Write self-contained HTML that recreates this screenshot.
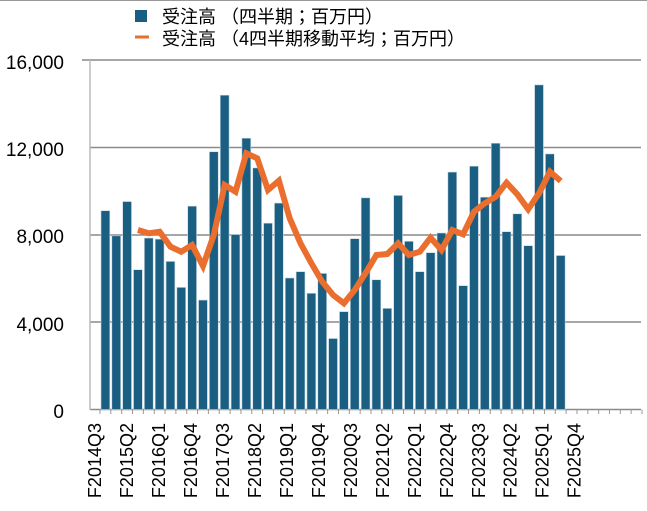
<!DOCTYPE html>
<html><head><meta charset="utf-8"><style>
html,body{margin:0;padding:0;background:#fff;}
svg{display:block;font-family:"Liberation Sans","Noto Sans CJK JP",sans-serif;}
</style></head><body>
<svg width="647" height="511" viewBox="0 0 647 511" xmlns="http://www.w3.org/2000/svg">
<line x1="0" y1="0.5" x2="647" y2="0.5" stroke="#999" stroke-width="1"/>
<g stroke="#8a8a8a" stroke-width="1.5">
<line x1="82" y1="60" x2="641" y2="60"/>
<line x1="90" y1="147.5" x2="641" y2="147.5"/>
<line x1="90" y1="235" x2="641" y2="235"/>
<line x1="90" y1="322" x2="641" y2="322"/>
<line x1="90" y1="409.5" x2="641" y2="409.5"/>
</g>
<line x1="90" y1="60" x2="90" y2="410" stroke="#bbb" stroke-width="1.5"/>
<g font-size="19" fill="#000" text-anchor="end">
<text x="64" y="69">16,000</text>
<text x="64" y="156">12,000</text>
<text x="64" y="243">8,000</text>
<text x="64" y="331">4,000</text>
<text x="64" y="418">0</text>
</g>
<g id="bars" fill="#1a5e82" stroke="#c8d8e2" stroke-width="0.6"></g>
<g id="ticks" stroke="#999" stroke-width="1"></g>
<polyline id="ma" fill="none" stroke="#ea6e2e" stroke-width="6" stroke-linejoin="miter" points=""/>
<g id="xl" font-size="18" fill="#000" text-anchor="end"></g>
<rect x="135" y="10" width="12" height="12" fill="#1a5e82"/>
<text x="162" y="23" font-size="18">受注高 （四半期；百万円）</text>
<line x1="135" y1="37" x2="149" y2="37" stroke="#ea6e2e" stroke-width="3"/>
<text x="162" y="45" font-size="18">受注高 （4四半期移動平均；百万円）</text>
</svg>
<script>
var v=[9.1,7.95,9.52,6.4,7.85,7.8,6.78,5.59,9.31,5.01,11.8,14.39,8.01,12.42,11.06,8.53,9.45,6.02,6.31,5.32,6.23,3.25,4.48,7.82,9.69,5.94,4.63,9.8,7.7,6.31,7.18,8.08,10.87,5.67,11.14,9.72,12.19,8.14,8.96,7.5,14.86,11.7,7.05];
var ma={3:230,4:233.3,5:231.7,6:246.7,7:251.7,8:245,9:266,10:235,11:185,12:191.7,13:153.3,14:158.3,15:190,16:180.7,17:218.3,18:243.3,19:263.3,20:281.7,21:295,22:303.3,23:290,24:273,25:255,26:254,27:243.3,28:255,29:251.7,30:237.7,31:250,32:230,33:234.3,34:211.7,35:203.3,36:196.7,37:182.7,38:194.3,39:209.3,40:193.3,41:171.7,42:181};
var W=10.84,X0=100,NS="http://www.w3.org/2000/svg";
function el(t,a,p){var e=document.createElementNS(NS,t);for(var k in a)e.setAttribute(k,a[k]);document.getElementById(p).appendChild(e);return e;}
v.forEach(function(d,i){var h=d*1000/16000*349.5;el("rect",{x:X0+W*i+1,y:409.5-h,width:W-2,height:h},"bars");});
for(var k=0;k<=50;k++){el("line",{x1:X0+W*k,y1:409.5,x2:X0+W*k,y2:414},"ticks");}
var pts=[];for(var i=3;i<=42;i++)pts.push((X0+W*(i+0.5)).toFixed(1)+","+ma[i]);
document.getElementById("ma").setAttribute("points",pts.join(" "));
var labs=["F2014Q3","F2015Q2","F2016Q1","F2016Q4","F2017Q3","F2018Q2","F2019Q1","F2019Q4","F2020Q3","F2021Q2","F2022Q1","F2022Q4","F2023Q3","F2024Q2","F2025Q1","F2025Q4"];
labs.forEach(function(s,j){var x=101+10.66*3*j;var t=el("text",{x:x,y:423,transform:"rotate(-90 "+x+" 423)"},"xl");t.textContent=s;});
</script>
</body></html>
